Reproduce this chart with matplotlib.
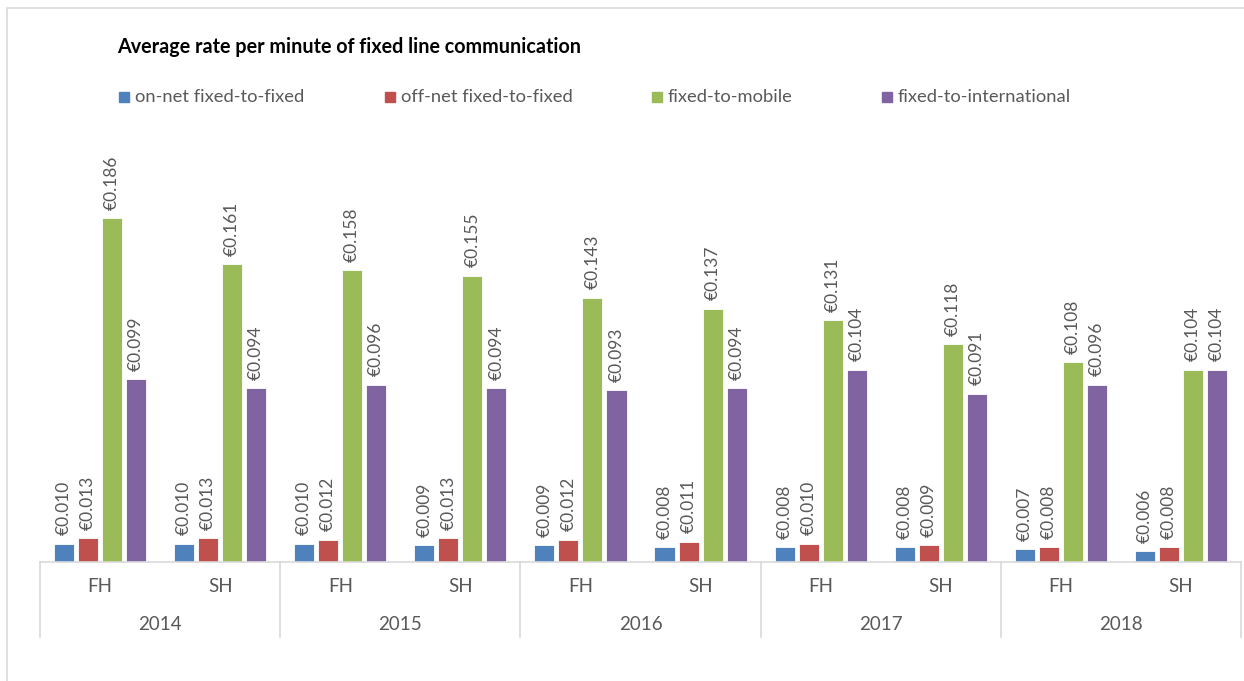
import numpy as np
import matplotlib
matplotlib.use("Agg")
import matplotlib.pyplot as plt
import matplotlib.patches as mpatches
import matplotlib.transforms as mtransforms

plt.rcParams["font.family"] = ["Lato", "DejaVu Sans"]

years = ["2014", "2015", "2016", "2017", "2018"]
halves = ["FH", "SH"]
series = ["on-net fixed-to-fixed", "off-net fixed-to-fixed", "fixed-to-mobile", "fixed-to-international"]
colors = ["#4F81BD", "#C0504D", "#9BBB59", "#8064A2"]

# one value per half-year, 2014 FH .. 2018 SH
on_net = [0.010, 0.010, 0.010, 0.009, 0.009, 0.008, 0.008, 0.008, 0.007, 0.006]
off_net = [0.013, 0.013, 0.012, 0.013, 0.012, 0.011, 0.010, 0.009, 0.008, 0.008]
to_mobile = [0.186, 0.161, 0.158, 0.155, 0.143, 0.137, 0.131, 0.118, 0.108, 0.104]
to_intl = [0.099, 0.094, 0.096, 0.094, 0.093, 0.094, 0.104, 0.091, 0.096, 0.104]

values = [on_net, off_net, to_mobile, to_intl]
TEXT = "#595959"
GRID = "#D9D9D9"

W, H = 1244, 681
fig = plt.figure(figsize=(W / 100, H / 100), dpi=100)

# axes placed in pixel terms
left, right, base, top = 40, 1241, 562, 130
ax = fig.add_axes([left / W, 1 - base / H, (right - left) / W, (base - top) / H])

n = len(on_net)
x = np.arange(n)
width = 0.167
offsets = [-0.3, -0.1, 0.1, 0.3]

for vals, col, off in zip(values, colors, offsets):
    bars = ax.bar(x + off, vals, width, color=col, edgecolor="white", linewidth=0.6)
    for rect, v in zip(bars, vals):
        ax.annotate(f"€{v:.3f}", (rect.get_x() + rect.get_width() / 2, v),
                    xytext=(0, 6), textcoords="offset points", rotation=90,
                    ha="center", va="bottom", fontsize=12.5, color=TEXT)

ax.set_xlim(-0.5, n - 0.5)
ax.set_ylim(0, (base - top) / 1848)
ax.axis("off")

# two-level category axis below the bars
tr = mtransforms.blended_transform_factory(ax.transData, ax.transAxes)
ax_h = base - top
ax.plot([-0.5, n - 0.5], [0, 0], color=GRID, lw=1.2, transform=tr, clip_on=False)
for b in np.arange(-0.5, n, 2):
    ax.plot([b, b], [0, -75 / ax_h], color=GRID, lw=1.2, transform=tr, clip_on=False)
for i in range(n):
    ax.text(i, -25 / ax_h, halves[i % 2], transform=tr, ha="center", va="center",
            fontsize=13.5, color=TEXT)
for j, yr in enumerate(years):
    ax.text(2 * j + 0.5, -63 / ax_h, yr, transform=tr, ha="center", va="center",
            fontsize=13.5, color=TEXT)

# chart frame
fig.add_artist(mpatches.Rectangle((7 / W, -0.1), 1.2, 1 - 8 / H + 0.1, transform=fig.transFigure,
                                  fill=False, edgecolor=GRID, lw=1.2))

fig.text(117 / W, 1 - 47 / H, "Average rate per minute of fixed line communication",
         fontsize=14.2, fontweight="bold", color="black", va="center", ha="left")

# legend row
leg_x = [119, 385, 652, 882]
for lx, label, col in zip(leg_x, series, colors):
    fig.add_artist(mpatches.Rectangle((lx / W, 1 - 102 / H), 10 / W, 10 / H,
                                      transform=fig.transFigure, color=col))
    fig.text((lx + 16) / W, 1 - 97 / H, label, fontsize=13.2, color=TEXT, va="center", ha="left")

fig.savefig("out.png", dpi=100)
